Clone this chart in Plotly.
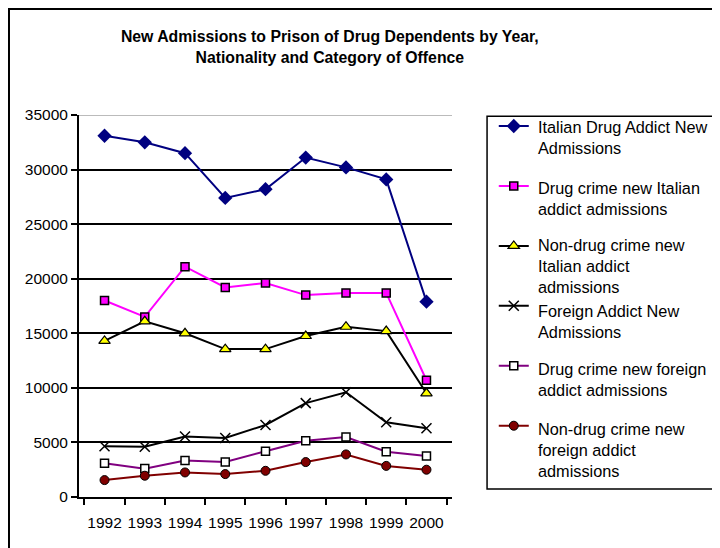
import plotly.graph_objects as go

years = ["1992", "1993", "1994", "1995", "1996", "1997", "1998", "1999", "2000"]

italian_total = [33100, 32500, 31500, 27400, 28200, 31100, 30200, 29100, 17900]
italian_drug_crime = [18000, 16500, 21100, 19200, 19600, 18500, 18700, 18700, 10700]
italian_non_drug = [14300, 16100, 15000, 13550, 13550, 14750, 15600, 15200, 9500]
foreign_total = [4650, 4600, 5550, 5400, 6600, 8600, 9600, 6850, 6300]
foreign_drug_crime = [3100, 2600, 3350, 3200, 4200, 5150, 5500, 4150, 3750]
foreign_non_drug = [1550, 1950, 2250, 2100, 2400, 3200, 3900, 2850, 2500]

series_names = [
    "Italian Drug Addict New<br>Admissions",
    "Drug crime new Italian<br>addict admissions",
    "Non-drug crime new<br>Italian addict<br>admissions",
    "Foreign Addict New<br>Admissions",
    "Drug crime new foreign<br>addict admissions",
    "Non-drug crime new<br>foreign addict<br>admissions",
]

styles = [
    dict(color="#000080", marker=dict(symbol="diamond", size=11, color="#000080")),
    dict(color="#FF00FF", marker=dict(symbol="square", size=8, color="#FF00FF",
                                      line=dict(color="black", width=1.5))),
    dict(color="black", marker=dict(symbol="triangle-up", size=10, color="#FFFF00",
                                    line=dict(color="black", width=1.2))),
    dict(color="black", marker=dict(symbol="x-thin-open", size=10, color="black",
                                    line=dict(color="black", width=1.5))),
    dict(color="#800080", marker=dict(symbol="square", size=8, color="white",
                                      line=dict(color="black", width=1.5))),
    dict(color="#800000", marker=dict(symbol="circle", size=9, color="#800000",
                                      line=dict(color="black", width=1))),
]

all_values = [italian_total, italian_drug_crime, italian_non_drug,
              foreign_total, foreign_drug_crime, foreign_non_drug]

# pequeño ajuste vertical (px) para que el texto de 3 líneas no pise al siguiente
text_nudge = [0, 0, 3, -3, 0, 0]

fig = go.Figure()
for i, (name, vals, st) in enumerate(zip(series_names, all_values, styles)):
    # el símbolo va en la leyenda; el texto se pone como anotación (ranuras de 60 px)
    fig.add_trace(go.Scatter(
        x=years, y=vals, name="<br><br> ", mode="lines+markers",
        line=dict(color=st["color"], width=2),
        marker=st["marker"],
        legendgroup=str(i),
        hovertemplate=name.replace("<br>", " ") + ": %{y}<extra></extra>",
    ))
    fig.add_annotation(
        text=name, xref="paper", yref="paper",
        x=1.225, y=0.997 - (i * 60.4 - text_nudge[i]) / 382,
        xanchor="left", yanchor="top",
        align="left", showarrow=False, font=dict(size=16.3),
    )

# borde exterior del gráfico, caja de la leyenda y línea superior gris
fig.add_shape(type="rect", xref="paper", yref="paper",
              x0=-0.1877, x1=1.8, y0=-0.2, y1=1.2775,
              line=dict(color="black", width=2), layer="below")
fig.add_shape(type="rect", xref="paper", yref="paper",
              x0=1.094, x1=1.8, y0=0.0209, y1=0.997,
              line=dict(color="black", width=1.5), layer="above")
fig.add_shape(type="line", xref="paper", yref="y", x0=0, x1=1, y0=35000, y1=35000,
              line=dict(color="#BBBBBB", width=2), layer="below")

fig.update_layout(
    width=712, height=540,
    margin=dict(l=71, r=268, t=107, b=51, autoexpand=False),
    paper_bgcolor="white", plot_bgcolor="white",
    font=dict(family="Liberation Sans, Arial, sans-serif", size=15.5, color="black"),
    title=dict(
        text="<b>New Admissions to Prison of Drug Dependents by Year,<br>Nationality and Category of Offence</b>",
        x=0.452, xref="container", xanchor="center",
        y=0.937, yref="container", yanchor="top",
        font=dict(size=15.8),
    ),
    showlegend=True,
    legend=dict(
        x=1.112, y=1.013, xanchor="left", yanchor="top",
        borderwidth=0, bgcolor="rgba(0,0,0,0)",
        font=dict(size=14.6), tracegroupgap=0, valign="top", maxheight=800,
    ),
    xaxis=dict(
        type="category", showgrid=False, showline=True, linecolor="black", linewidth=2,
        ticks="outside", tickson="boundaries", ticklen=6, tickcolor="black", tickwidth=1.5,
        ticklabelstandoff=10, tickangle=0, automargin=False,
    ),
    yaxis=dict(
        range=[0, 35000], dtick=5000, tickformat="d", showgrid=True, gridcolor="black",
        gridwidth=1.5, showline=True, linecolor="black", linewidth=2, zeroline=False,
        ticks="outside", ticklen=6, tickcolor="black", tickwidth=1.5, automargin=False,
    ),
)

fig.write_html("out.html")
